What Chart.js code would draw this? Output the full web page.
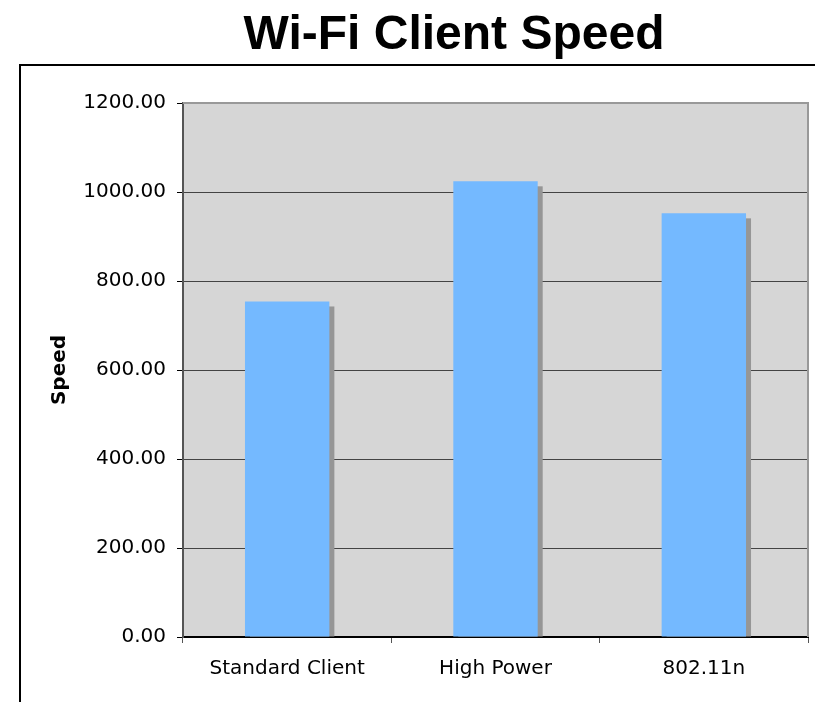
<!DOCTYPE html>
<html>
<head>
<meta charset="utf-8">
<script src="https://cdn.jsdelivr.net/npm/chart.js@4.4.0/dist/chart.umd.min.js"></script>
<style>
  html, body { margin: 0; padding: 0; background: #fff; overflow: hidden; }
  #wrap { width: 815px; height: 702px; position: relative; }
</style>
</head>
<body>
<div id="wrap"><canvas id="myc" width="815" height="702"></canvas></div>
<script>
// chart data
var categories = ["Standard Client", "High Power", "802.11n"];
var speeds = [754, 1024, 952];
var yTicks = [0, 200, 400, 600, 800, 1000, 1200];

var titleText = "Wi-Fi Client Speed";
var axisTitle = "Speed";

// frame, title and bar shadows
var decor = {
  id: 'decor',
  beforeDraw: function(chart) {
    var c = chart.ctx;
    c.save();
    c.fillStyle = '#fff';
    c.fillRect(0, 0, chart.width, chart.height);
    // outer frame
    c.strokeStyle = '#000';
    c.lineWidth = 2;
    c.beginPath();
    c.moveTo(20, 702);
    c.lineTo(20, 65);
    c.lineTo(815, 65);
    c.stroke();
    // title
    c.fillStyle = '#000';
    c.font = 'bold 48px "Liberation Sans", Arial, sans-serif';
    c.textAlign = 'center';
    c.textBaseline = 'alphabetic';
    c.fillText(titleText, 454, 49);
    // plot background
    var a = chart.chartArea;
    c.fillStyle = '#d6d6d6';
    c.fillRect(a.left, a.top, a.right - a.left, a.bottom - a.top);
    c.restore();
  },
  beforeDatasetsDraw: function(chart) {
    var c = chart.ctx;
    var meta = chart.getDatasetMeta(0);
    c.save();
    c.fillStyle = '#969696';
    meta.data.forEach(function(bar) {
      var p = bar.getProps(['x', 'y', 'base', 'width'], true);
      c.fillRect(p.x - p.width / 2 + 5, p.y + 5, p.width, p.base - p.y - 5);
    });
    c.restore();
  },
  afterDraw: function(chart) {
    var a = chart.chartArea;
    var c = chart.ctx;
    c.save();
    // plot area border top/right
    c.strokeStyle = '#999';
    c.lineWidth = 2;
    c.beginPath();
    c.moveTo(a.left, a.top);
    c.lineTo(a.right, a.top);
    c.lineTo(a.right, a.bottom);
    c.stroke();
    c.restore();
  }
};

var ctx = document.getElementById('myc').getContext('2d');
var myChart = new Chart(ctx, {
  type: 'bar',
  data: {
    labels: categories,
    datasets: [{
      label: axisTitle,
      data: speeds,
      backgroundColor: '#74b9ff',
      borderWidth: 0,
      categoryPercentage: 1,
      barPercentage: 0.405
    }]
  },
  options: {
    responsive: false,
    animation: false,
    layout: { padding: { top: 103, right: 7, left: 0, bottom: 0 } },
    plugins: {
      legend: { display: false },
      title: { display: false },
      tooltip: { enabled: false }
    },
    scales: {
      x: {
        grid: {
          display: true,
          drawOnChartArea: false,
          drawTicks: true,
          tickLength: 6,
          color: '#555',
          offset: true
        },
        border: { display: true, color: '#000', width: 2 },
        ticks: {
          color: '#000',
          padding: 14,
          font: { family: '"DejaVu Sans", Verdana, sans-serif', size: 20 }
        },
        afterFit: function(scale) { scale.height = 65; }
      },
      y: {
        min: 0,
        max: 1200,
        afterBuildTicks: function(scale) {
          scale.ticks = yTicks.map(function(v) { return { value: v }; });
        },
        grid: {
          color: function(c) { return c.tick && c.tick.value === 1200 ? 'rgba(0,0,0,0)' : '#444'; },
          lineWidth: 1,
          tickLength: 6,
          tickColor: '#000'
        },
        border: { display: true, color: '#555', width: 2 },
        ticks: {
          color: '#000',
          padding: 11,
          font: { family: '"DejaVu Sans", Verdana, sans-serif', size: 20 },
          callback: function(v) { return Number(v).toFixed(2); }
        },
        title: {
          display: true,
          text: axisTitle,
          color: '#000',
          padding: { top: 48, bottom: 0 },
          font: { family: '"DejaVu Sans", Verdana, sans-serif', size: 20, weight: 'bold' }
        },
        afterFit: function(scale) { scale.width = 183; }
      }
    }
  },
  plugins: [decor]
});
</script>
</body>
</html>
